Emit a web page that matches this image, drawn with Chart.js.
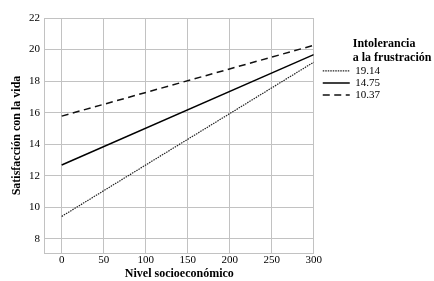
<!DOCTYPE html>
<html>
<head>
<meta charset="utf-8">
<script src="https://cdn.jsdelivr.net/npm/chart.js@4"></script>
<style>
  html, body { margin: 0; padding: 0; background: #fff; }
  #wrap { width: 434px; height: 281px; }
</style>
</head>
<body>
<div id="wrap"><canvas id="myChart"></canvas></div>
<script>
// data
var nivel = [0, 300];
var seriesLabels = ['19.14', '14.75', '10.37'];
var alta = [9.42, 19.2];     // intolerancia 19.14 (dotted)
var media = [12.68, 19.68];  // intolerancia 14.75 (solid)
var baja = [15.78, 20.27];   // intolerancia 10.37 (dashed)
var xTicks = [0, 50, 100, 150, 200, 250, 300];
var yTicks = [8, 10, 12, 14, 16, 18, 20, 22];
var legendTitle = ['Intolerancia', 'a la frustración'];

var serif = "'Liberation Serif', 'Times New Roman', serif";
Chart.defaults.font.family = serif;
Chart.defaults.color = '#000';

function pts(ys) {
    return nivel.map(function (x, i) { return { x: x, y: ys[i] }; });
}

// moves the legend a bit right and draws the two-line title above it
var legendTitlePlugin = {
    id: 'legendTitle',
    afterLayout: function (chart) {
        if (chart.legend) {
            chart.legend.left += 8;
            chart.legend.right += 8;
        }
    },
    afterDraw: function (chart) {
        var lg = chart.legend;
        if (!lg || !lg.legendHitBoxes.length) return;
        var box = lg.legendHitBoxes[0];
        var ctx = chart.ctx;
        var x = box.left + 27 + 3;
        ctx.save();
        ctx.font = 'bold 12px ' + serif;
        ctx.fillStyle = '#000';
        ctx.textBaseline = 'middle';
        ctx.textAlign = 'left';
        ctx.fillText(legendTitle[0], x, box.top - 21);
        ctx.fillText(legendTitle[1], x, box.top - 7);
        ctx.restore();
    }
};

var ctx = document.getElementById('myChart').getContext('2d');
var myChart = new Chart(ctx, {
    type: 'line',
    data: {
        datasets: [{
            label: seriesLabels[0],
            data: pts(alta),
            borderColor: '#222',
            borderWidth: 1.2,
            borderDash: [1.5, 1],
            pointRadius: 0,
            pointStyle: 'line'
        }, {
            label: seriesLabels[1],
            data: pts(media),
            borderColor: '#000',
            borderWidth: 1.5,
            pointRadius: 0,
            pointStyle: 'line'
        }, {
            label: seriesLabels[2],
            data: pts(baja),
            borderColor: '#111',
            borderWidth: 1.5,
            borderDash: [7, 4.5],
            pointRadius: 0,
            pointStyle: 'line'
        }]
    },
    options: {
        responsive: true,
        maintainAspectRatio: false,
        animation: false,
        layout: { padding: { top: 18, left: 9.5, right: 52, bottom: 1 } },
        plugins: {
            tooltip: { enabled: false },
            legend: {
                position: 'right',
                align: 'start',
                title: { display: true, text: ' ', padding: { top: 0, bottom: 32 } },
                labels: {
                    usePointStyle: true,
                    pointStyleWidth: 27,
                    boxHeight: 11,
                    padding: 1,
                    color: '#000',
                    font: { size: 11 },
                    generateLabels: function (chart) {
                        var items = Chart.defaults.plugins.legend.labels.generateLabels(chart);
                        items.forEach(function (it, i) {
                            var ds = chart.data.datasets[i];
                            it.lineDash = ds.borderDash || [];
                            it.lineWidth = ds.borderWidth;
                            it.strokeStyle = ds.borderColor;
                        });
                        return items;
                    }
                }
            }
        },
        scales: {
            x: {
                type: 'linear',
                min: -20,
                max: 300,
                afterBuildTicks: function (axis) {
                    axis.ticks = xTicks.map(function (v) { return { value: v }; });
                },
                grid: { color: '#c2c2c2', drawTicks: false },
                border: { color: '#c2c2c2' },
                ticks: { padding: 2, font: { size: 11, lineHeight: 1 }, color: '#000' },
                title: {
                    display: true,
                    text: 'Nivel socioeconómico',
                    font: { size: 12, weight: 'bold', lineHeight: 1 },
                    padding: { top: 0, bottom: 0 }
                }
            },
            y: {
                min: 7.1,
                max: 22,
                afterBuildTicks: function (axis) {
                    axis.ticks = yTicks.map(function (v) { return { value: v }; });
                },
                grid: { color: '#c2c2c2', drawTicks: false },
                border: { color: '#c2c2c2' },
                ticks: { padding: 5, font: { size: 11 }, color: '#000' },
                title: {
                    display: true,
                    text: 'Satisfacción con la vida',
                    font: { size: 12, weight: 'bold' },
                    padding: { top: 0, bottom: 0 }
                }
            }
        }
    },
    plugins: [legendTitlePlugin]
});
</script>
</body>
</html>
